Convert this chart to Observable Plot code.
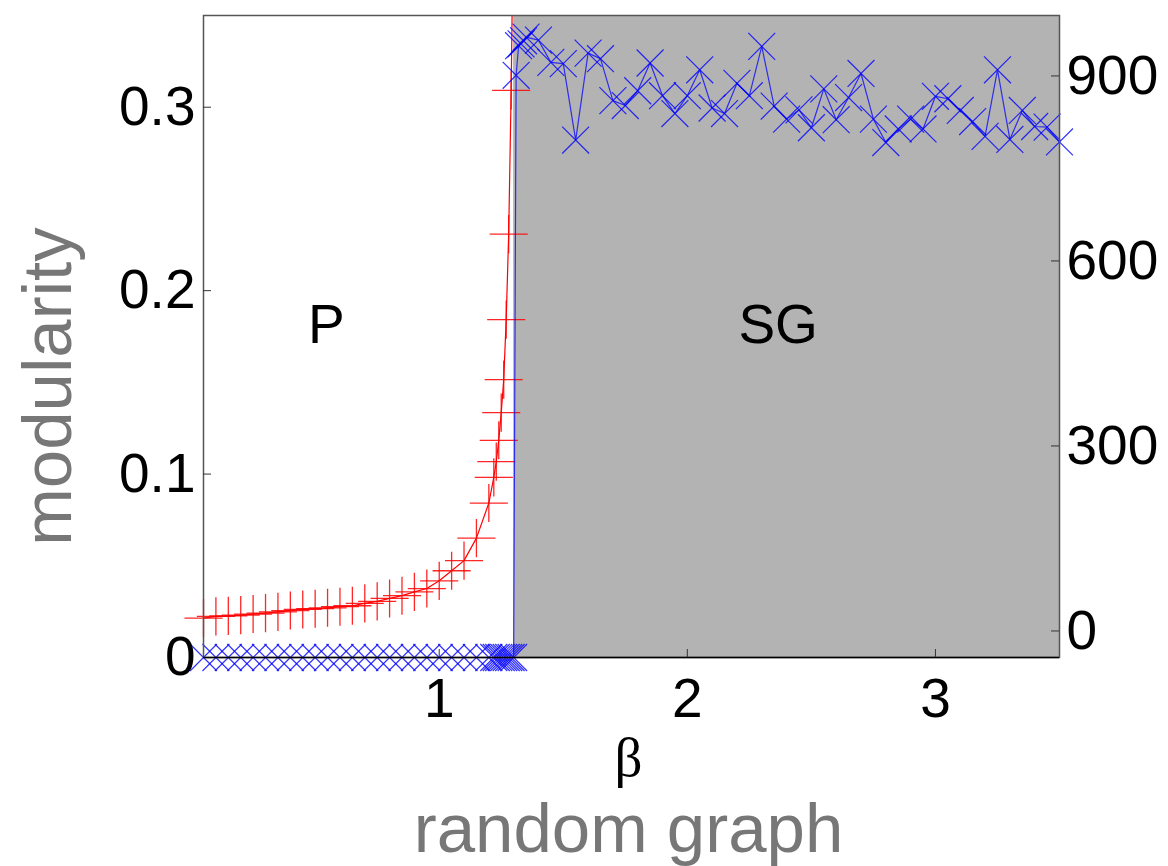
<!DOCTYPE html>
<html><head><meta charset="utf-8">
<script src="https://cdn.jsdelivr.net/npm/d3@7"></script>
<script src="https://cdn.jsdelivr.net/npm/@observablehq/plot@0.6"></script>
<style>html,body{margin:0;padding:0;background:#fff;} svg{display:block;}</style>
</head><body><div id="chart"></div>
<script>
// ---- data ----
// red "+" series: modularity (left axis)
const betaRed = [0.05,0.10,0.15,0.20,0.25,0.30,0.35,0.40,0.45,0.50,0.55,0.60,0.65,0.70,0.75,0.80,0.85,0.90,0.95,1.00,1.05,1.10,1.15,1.20,1.22,1.23,1.24,1.25,1.26,1.27,1.28,1.29,1.30];
const modularity = [0.0215,0.0224,0.0227,0.0231,0.0237,0.0242,0.0249,0.0256,0.0262,0.0266,0.0271,0.0277,0.0282,0.0295,0.0306,0.0322,0.0337,0.0358,0.0376,0.0418,0.0473,0.0528,0.0651,0.0842,0.0982,0.1068,0.1184,0.1335,0.1515,0.1842,0.2308,0.3092,0.42];
// blue "x" series (right axis)
const betaBlue = [0.05,0.10,0.15,0.20,0.25,0.30,0.35,0.40,0.45,0.50,0.55,0.60,0.65,0.70,0.75,0.80,0.85,0.90,0.95,1.00,1.05,1.10,1.15,1.20,1.22,1.23,1.24,1.25,1.26,1.27,1.28,1.29,1.30,
  1.31,1.32,1.33,1.34,1.35,1.40,1.45,1.50,1.55,1.60,1.65,1.70,1.75,1.80,1.85,1.90,1.95,2.00,2.05,2.10,2.15,2.20,2.25,2.30,2.35,2.40,2.45,2.50,2.55,2.60,2.65,2.70,2.75,2.80,2.85,2.90,2.95,3.00,3.05,3.10,3.15,3.20,3.25,3.30,3.35,3.40,3.45,3.50];
const blueValue = [-43,-43,-43,-43,-43,-43,-43,-43,-43,-43,-43,-43,-43,-43,-43,-43,-43,-43,-43,-43,-43,-43,-43,-43,-43,-43,-43,-43,-43,-43,-43,-43,-43,
  901,949,952,957,963,958,922,920,796,937,928,860,852,876,921,868,839,868,910,848,839,888,868,948,851,830,845,816,879,829,865,904,830,792,814,830,814,867,863,844,826,802,910,797,844,818,817,793];
// axes
const xTicks = [1,2,3];
const leftTicks = [0,0.1,0.2,0.3];
const rightTicks = [0,300,600,900];
const xDomain = [0.05,3.5];
const leftDomain = [0,0.35];
const rightDomain = [-43,998];
const phaseBoundary = 1.30;
const regionLabels = [{beta:0.545,m:0.181,text:"P"},{beta:2.366,m:0.181,text:"SG"}];

// ---- build ----
const toLeft = v => (v - rightDomain[0]) / (rightDomain[1] - rightDomain[0]) * (leftDomain[1] - leftDomain[0]) + leftDomain[0];
const fromLeft = y => (y - leftDomain[0]) / (leftDomain[1] - leftDomain[0]) * (rightDomain[1] - rightDomain[0]) + rightDomain[0];
const red = betaRed.map((b,i)=>({b, m: modularity[i]}));
const blue = betaBlue.map((b,i)=>({b, v: blueValue[i], y: toLeft(blueValue[i])}));
const W = 1168, H = 866, mL = 203, mR = 109, mT = 15, mB = 209;
const pw = W - mL - mR, ph = H - mT - mB;
const FONT = "'Liberation Sans', Arial, Helvetica, sans-serif";

const chart = Plot.plot({
  width: W, height: H,
  marginLeft: mL, marginRight: mR, marginTop: mT, marginBottom: mB,
  style: {fontFamily: FONT, fontSize: "55px", color: "#000", background: "#fff"},
  x: {domain: xDomain},
  y: {domain: leftDomain},
  marks: [
    Plot.rect([{x1: phaseBoundary, x2: xDomain[1]}], {x1: "x1", x2: "x2", y1: leftDomain[0], y2: leftDomain[1], fill: "#b3b3b3"}),
    Plot.text(regionLabels, {x: "beta", y: "m", text: "text", fontSize: 55, fill: "#000"}),
    Plot.line(red, {x: "b", y: "m", stroke: "#ff0000", strokeWidth: 1.2, clip: true}),
    Plot.dot(red.filter(d => d.m <= leftDomain[1]), {x: "b", y: "m", symbol: "plus", r: 12.3, stroke: "#ff0000", fill: "none", strokeWidth: 1.3, strokeOpacity: 0.85}),
    Plot.line(blue, {x: "b", y: "y", stroke: "#0000ff", strokeWidth: 1.2, strokeOpacity: 0.75}),
    Plot.dot(blue, {x: "b", y: "y", symbol: "times", r: 12.3, stroke: "#0000ff", fill: "none", strokeWidth: 1.2, strokeOpacity: 0.8}),
    Plot.frame({stroke: "#555", strokeWidth: 1.5}),
    Plot.ruleY([leftDomain[0]], {stroke: "#000", strokeWidth: 1.5}),
    // inward ticks
    Plot.tickX(xTicks, {x: d => d, insetTop: ph - 8, stroke: "#333"}),
    Plot.tickY(leftTicks.filter(d => d > 0), {y: d => d, insetRight: pw - 8, stroke: "#333"}),
    Plot.tickY(rightTicks.map(toLeft), {y: d => d, insetLeft: pw - 8, stroke: "#333"}),
    // tick labels
    Plot.axisX(xTicks, {anchor: "bottom", tickSize: 0, tickPadding: 20, fontSize: 55, tickFormat: d => String(d), label: null}),
    Plot.axisY(leftTicks, {anchor: "left", tickSize: 0, tickPadding: 8, fontSize: 55, tickFormat: d => d === 0 ? "0" : d.toFixed(1), label: null}),
    Plot.axisY(rightTicks.map(toLeft), {anchor: "right", tickSize: 0, tickPadding: 7, fontSize: 55, tickFormat: d => String(Math.round(fromLeft(d))), label: null}),
    // axis titles
    Plot.text(["β"], {frameAnchor: "bottom", textAnchor: "middle", dx: -3, dy: 118, lineAnchor: "bottom", fontSize: 55, fontFamily: "'Liberation Serif', 'DejaVu Serif', serif", fill: "#000"}),
    Plot.text(["random graph"], {frameAnchor: "bottom", textAnchor: "middle", dx: -3, dy: 194, lineAnchor: "bottom", fontSize: 69, fill: "#777"}),
    Plot.text(["modularity"], {frameAnchor: "left", textAnchor: "middle", dx: -133, dy: 50, rotate: -90, lineAnchor: "bottom", fontSize: 69, fill: "#777"})
  ]
});
document.getElementById("chart").appendChild(chart);
</script>
</body></html>
